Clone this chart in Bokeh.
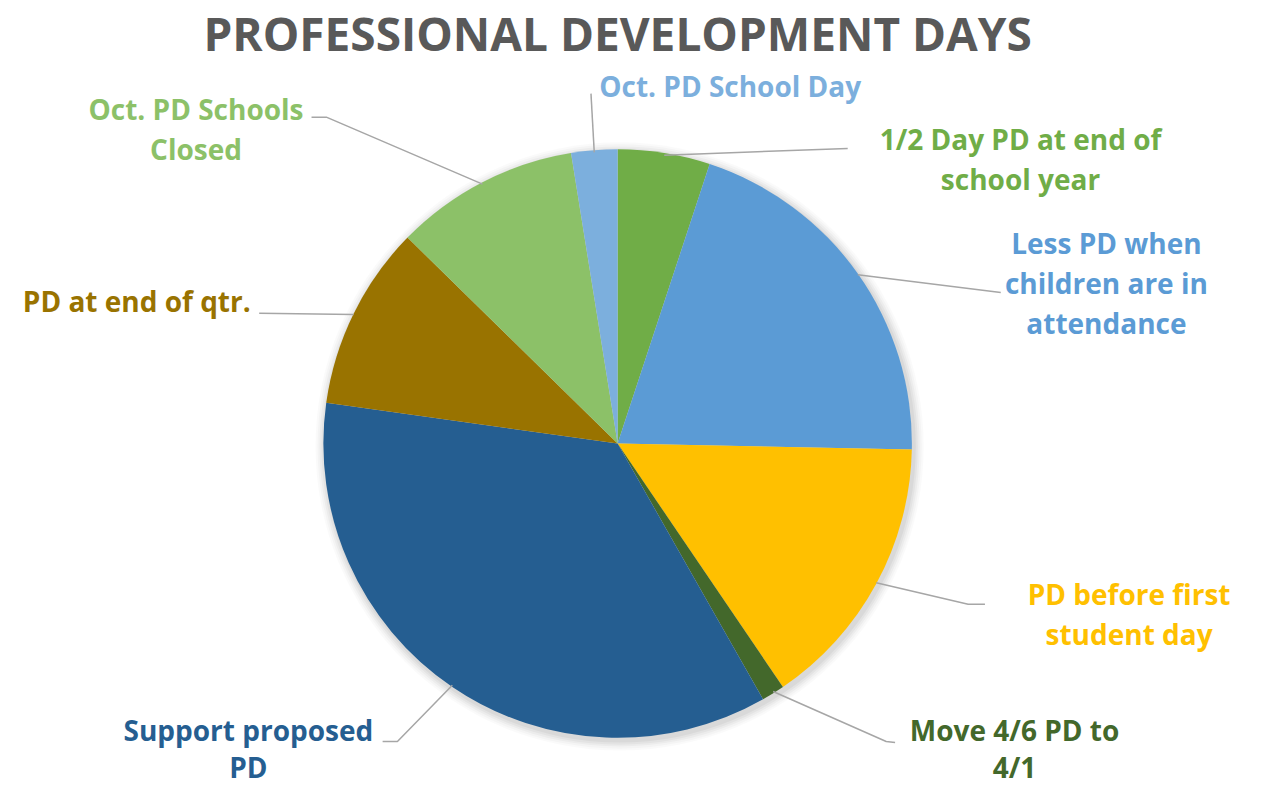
import numpy as np
from bokeh.plotting import figure
from bokeh.models import Range1d
from bokeh.core.properties import value
from bokeh.embed import file_html
from bokeh.resources import INLINE

# ---- data ----
title = "PROFESSIONAL DEVELOPMENT DAYS"
categories = [
    "1/2 Day PD at end of\nschool year",
    "Less PD when\nchildren are in\nattendance",
    "PD before first\nstudent day",
    "Move 4/6 PD to\n4/1",
    "Support proposed\nPD",
    "PD at end of qtr.",
    "Oct. PD Schools\nClosed",
    "Oct. PD School Day",
]
counts = [4, 16, 12, 1, 28, 8, 8, 2]
colors = ["#70AD47", "#5B9BD5", "#FFC000", "#43682B", "#255E91", "#997300", "#8CC168", "#7CAFDD"]

# ---- layout (reference pixel coords, mapped into a slightly smaller canvas) ----
W, H = 1255, 792
RW, RH = 1271, 808
def X(px): return px
def Y(py): return RH - py

cx, cy, R = X(625), Y(452), 298
FONT = value("Open Sans")
LSIZE = "28px"
LINE_GAP = 41

# label anchor: (center x, first line y) in reference pixels
label_pos = [(1033, 141), (1120, 247), (1143, 605), (1027, 744),
             (251, 744), (138, 307), (198, 111), (739, 87)]
line_gaps = [LINE_GAP, LINE_GAP, LINE_GAP, 38, 38, LINE_GAP, LINE_GAP, LINE_GAP]
# leader line outer points (reference pixels)
leader_pts = [
    [(858, 151)],
    [(1013, 298)],
    [(980, 616), (997, 616)],
    [(897, 756), (906, 757)],
    [(402, 756), (387, 756)],
    [(262, 319)],
    [(330, 119), (315, 119)],
    [(598, 95)],
]

p = figure(width=W, height=H, output_backend="svg", toolbar_location=None,
           x_range=Range1d(0, RW), y_range=Range1d(0, RH), min_border=0)
p.axis.visible = False
p.grid.visible = False
p.outline_line_color = None
p.background_fill_color = "white"

total = sum(counts)
frac = np.array(counts) / total
cum = np.concatenate([[0], np.cumsum(frac)])
starts_cw = cum[:-1] * 2 * np.pi
ends_cw = cum[1:] * 2 * np.pi

# soft shadow
for k, a in enumerate([0.04, 0.035, 0.03, 0.025, 0.02]):
    p.circle(x=cx + 2, y=cy - 3, radius=R + 2 + 2 * k, fill_color="black",
             fill_alpha=a, line_color=None)

p.wedge(x=cx, y=cy, radius=R,
        start_angle=list(np.pi / 2 - ends_cw), end_angle=list(np.pi / 2 - starts_cw),
        direction="anticlock", fill_color=colors, line_color=None)

# leader lines
for i in range(len(counts)):
    mid = (starts_cw[i] + ends_cw[i]) / 2
    sx = cx + R * np.sin(mid)
    sy = cy + R * np.cos(mid)
    xs = [sx] + [X(px) for px, py in leader_pts[i]]
    ys = [sy] + [Y(py) for px, py in leader_pts[i]]
    p.line(xs, ys, line_color="#A6A6A6", line_width=1.5)

# labels
for i, cat in enumerate(categories):
    lx, ly = label_pos[i]
    lines = cat.split("\n")
    p.text(x=[X(lx)] * len(lines), y=[Y(ly + line_gaps[i] * k) for k in range(len(lines))],
           text=lines, text_font=FONT, text_font_style="bold", text_font_size=LSIZE,
           text_color=colors[i], text_align="center", text_baseline="middle")

# title
p.text(x=[X(625)], y=[Y(33)], text=[title], text_font=FONT, text_font_style="bold",
       text_font_size="46px", text_color="#595959", text_align="center",
       text_baseline="middle")

open("out.html", "w").write(file_html(p, INLINE))
